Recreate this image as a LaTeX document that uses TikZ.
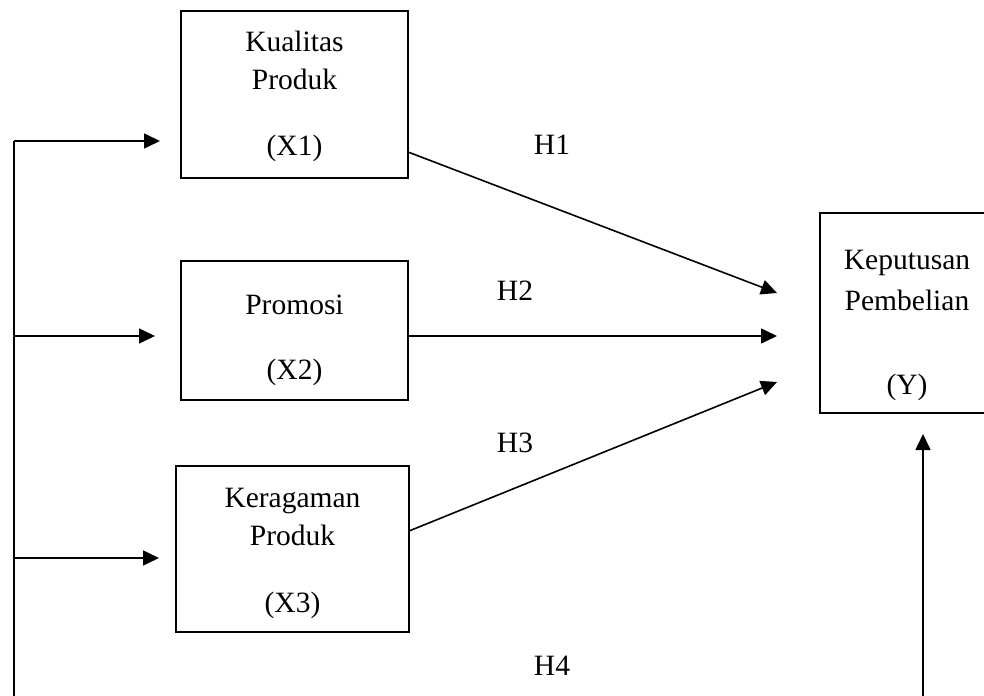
\documentclass[tikz,border=0pt]{standalone}
\usepackage{fontspec}
\setmainfont{Liberation Serif}
\usepackage{tikz}
\usetikzlibrary{
  arrows.meta,
  positioning,
  calc
}
\tikzset{
  varbox/.style={
    rectangle, draw=black, line width=1.6bp, fill=white,
    align=center, inner sep=0pt,
    font=\fontsize{29.5bp}{38bp}\selectfont
  },
  arrowstyle/.style={
    -{Triangle[length=16bp,width=15bp]}, line width=1.6bp, color=black
  },
  buslink/.style={
    line width=1.6bp, color=black
  },
  hlabel/.style={
    font=\fontsize{29.5bp}{38bp}\selectfont
  },
}
\newcommand{\topgap}[1]{\rule{0pt}{#1}}

\begin{document}
\begin{tikzpicture}[x=1bp, y=-1bp]
  \clip (0,0) rectangle (984,696);

  % variable boxes
  \node[varbox, minimum width=227bp, minimum height=167bp] (x1) at (294.5,94.5)
    {\topgap{24bp}Kualitas\\Produk\\[28bp](X1)};
  \node[varbox, minimum width=227bp, minimum height=139bp] (x2) at (294.5,330.5)
    {\topgap{40bp}Promosi\\[27bp](X2)};
  \node[varbox, minimum width=233bp, minimum height=166bp] (x3) at (292.5,549)
    {\topgap{28bp}Keragaman\\Produk\\[29bp](X3)};
  \node[varbox, minimum width=174bp, minimum height=200bp] (y) at (907,313)
    {\topgap{44bp}Keputusan\\[3bp]Pembelian\\[46bp](Y)};

  % free ends of the connectors
  \coordinate (x1out) at (408,152);
  \coordinate (x2out) at (408,336);
  \coordinate (x3out) at (409,531);
  \coordinate (y1in) at (777,293);
  \coordinate (y2in) at (777,336);
  \coordinate (y3in) at (777,382);
  \coordinate (bustop) at (14,141);
  \coordinate (busbot) at (14,700);
  \coordinate (b1) at (14,141);
  \coordinate (b2) at (14,336);
  \coordinate (b3) at (14,558);
  \coordinate (t1) at (160,141);
  \coordinate (t2) at (155,336);
  \coordinate (t3) at (159,558);
  \coordinate (h4bot) at (923,700);
  \coordinate (h4top) at (923,434);

  % hypotheses
  \draw[arrowstyle] (x1out) -- (y1in);
  \draw[arrowstyle] (x2out) -- (y2in);
  \draw[arrowstyle] (x3out) -- (y3in);
  \draw[arrowstyle] (h4bot) -- (h4top);

  % simultaneous bus
  \draw[buslink] (bustop) -- (busbot);
  \draw[arrowstyle] (b1) -- (t1);
  \draw[arrowstyle] (b2) -- (t2);
  \draw[arrowstyle] (b3) -- (t3);

  \node[hlabel] (h1) at (552,145) {H1};
  \node[hlabel] (h2) at (515,291) {H2};
  \node[hlabel] (h3) at (515,443) {H3};
  \node[hlabel] (h4) at (552,666) {H4};
\end{tikzpicture}
\end{document}
